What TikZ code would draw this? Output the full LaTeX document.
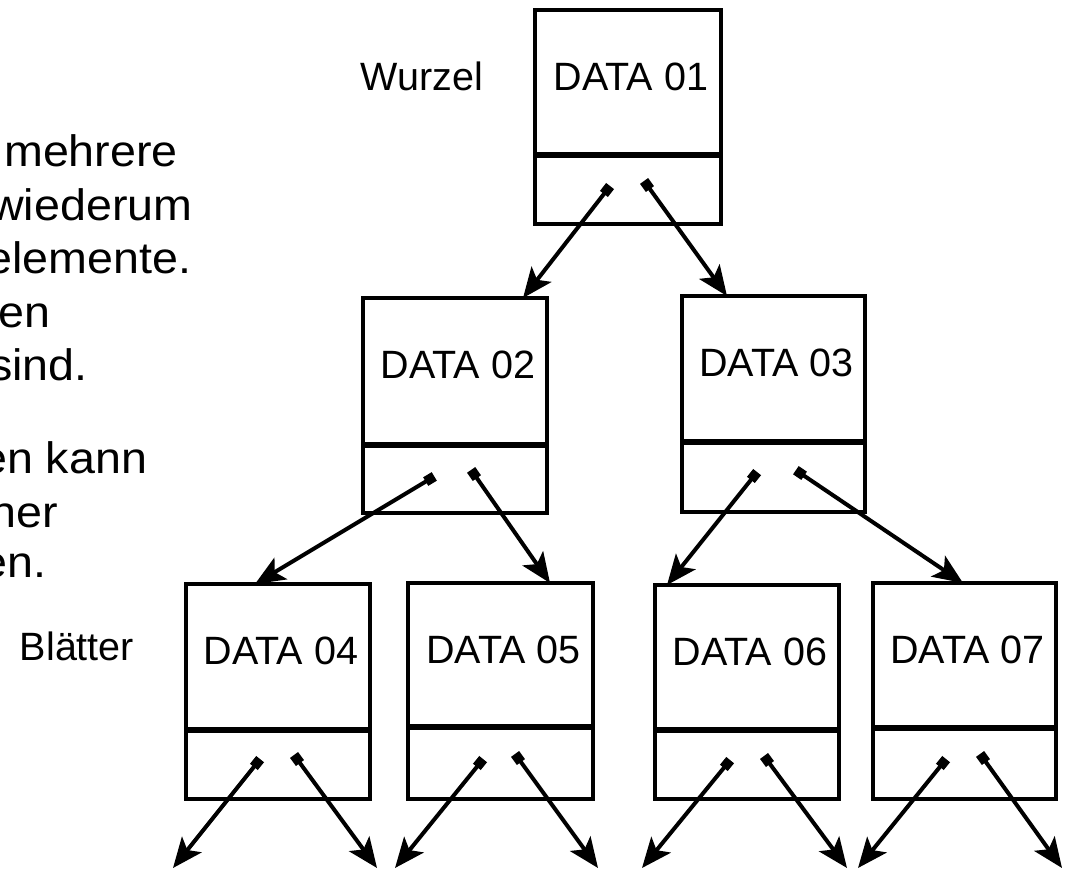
\documentclass[tikz,border=0pt]{standalone}
\usepackage{fontspec}
\setmainfont{Liberation Sans}
\newfontfamily\notefont{Liberation Sans}[FakeStretch=1.06]
\usetikzlibrary{arrows.meta,calc}

% one tree element: data part, pointer part and its label
% #1 name, #2 left, #3 top, #4 divider, #5 bottom, #6 right, #7 label
\newcommand\databox[7]{%
  \node[box, minimum width={#6-#2}, minimum height={#4-#3}] (#1)
    at ({(#2+#6)/2},{(#3+#4)/2}) {};
  \node[box, minimum width={#6-#2}, minimum height={#5-#4}] (#1p)
    at ({(#2+#6)/2},{(#4+#5)/2}) {};
  \draw[line width=6pt] (#1.south west) -- (#1.south east);
  \node[lbl] (#1t) at ({(#2+#6)/2+3},{#3+80}) {#7};
}

\begin{document}
\begin{tikzpicture}[x=1pt,y=-1pt,
  box/.style={draw, line width=4.5pt, rectangle, inner sep=0pt, outer sep=0pt},
  link/.style={line width=4pt,
    {Square[length=10pt,width=10pt]}-{Stealth[length=30pt,width=25pt,inset=7pt]},
    shorten <=-5pt},
  lbl/.style={font=\fontsize{39.5}{47}\selectfont, anchor=base, inner sep=0pt},
  note/.style={font=\notefont\fontsize{44}{53}\selectfont, anchor=base west, inner sep=0pt}]

\clip (0,0) rectangle (1069,870);
\useasboundingbox (0,0) rectangle (1069,870);
\fill[white] (0,0) rectangle (1069,870);

% explanatory text running in from the left edge
\node[note] (l1) at (4,166) {mehrere};
\node[note] (l2) at (-10,220) {wiederum};
\node[note] (l3) at (-14,273) {elemente.};
\node[note] (l4) at (-2,327) {en};
\node[note] (l5) at (-11,380) {sind.};
\node[note] (l6) at (-19,473) {en kann};
\node[note] (l7) at (-10,527) {her};
\node[note] (l8) at (-19,577) {en.};

% level labels
\node[lbl] (wurzel) at (422,90) {Wurzel};
\node[lbl] (blaetter) at (77,660) {Blätter};

% tree elements
\databox{n1}{535}{10}{155}{224}{721}{DATA 01}
\databox{n2}{363}{298}{445}{513}{547}{DATA 02}
\databox{n3}{682}{296}{442}{512}{865}{DATA 03}
\databox{n4}{186}{584}{730}{799}{370}{DATA 04}
\databox{n5}{408}{583}{727}{799}{593}{DATA 05}
\databox{n6}{655}{585}{730}{799}{839}{DATA 06}
\databox{n7}{873}{583}{728}{799}{1056}{DATA 07}

% pointer fields
\coordinate (p1l) at (607,190); \coordinate (p1r) at (647,185);
\coordinate (p2l) at (430,479); \coordinate (p2r) at (474,474);
\coordinate (p3l) at (754,476); \coordinate (p3r) at (800,473);
\coordinate (p4l) at (257,763); \coordinate (p4r) at (297,759);
\coordinate (p5l) at (480,763); \coordinate (p5r) at (518,758);
\coordinate (p6l) at (727,764); \coordinate (p6r) at (767,760);
\coordinate (p7l) at (943,763); \coordinate (p7r) at (983,758);

% where the pointers reach the children
\coordinate (c2) at (n2.north west -| 523,0);
\coordinate (c3) at (n3.north west -| 727,0);
\coordinate (c4) at (n4.north west -| 255,0);
\coordinate (c5) at (n5.north west -| 550,0);
\coordinate (c6) at (n6.north west -| 667,0);
\coordinate (c7) at (n7.north west -| 963,0);

% open ends below the leaves
\coordinate (e4l) at (173,868); \coordinate (e4r) at (377,868);
\coordinate (e5l) at (395,868); \coordinate (e5r) at (598,868);
\coordinate (e6l) at (642,868); \coordinate (e6r) at (847,868);
\coordinate (e7l) at (858,868); \coordinate (e7r) at (1062,868);

\draw[link] (p1l) -- (c2);
\draw[link] (p1r) -- (c3);
\draw[link] (p2l) -- (c4);
\draw[link] (p2r) -- (c5);
\draw[link] (p3l) -- (c6);
\draw[link] (p3r) -- (c7);
\foreach \k in {4,5,6,7}{
  \draw[link] (p\k l) -- (e\k l);
  \draw[link] (p\k r) -- (e\k r);
}
\end{tikzpicture}
\end{document}
